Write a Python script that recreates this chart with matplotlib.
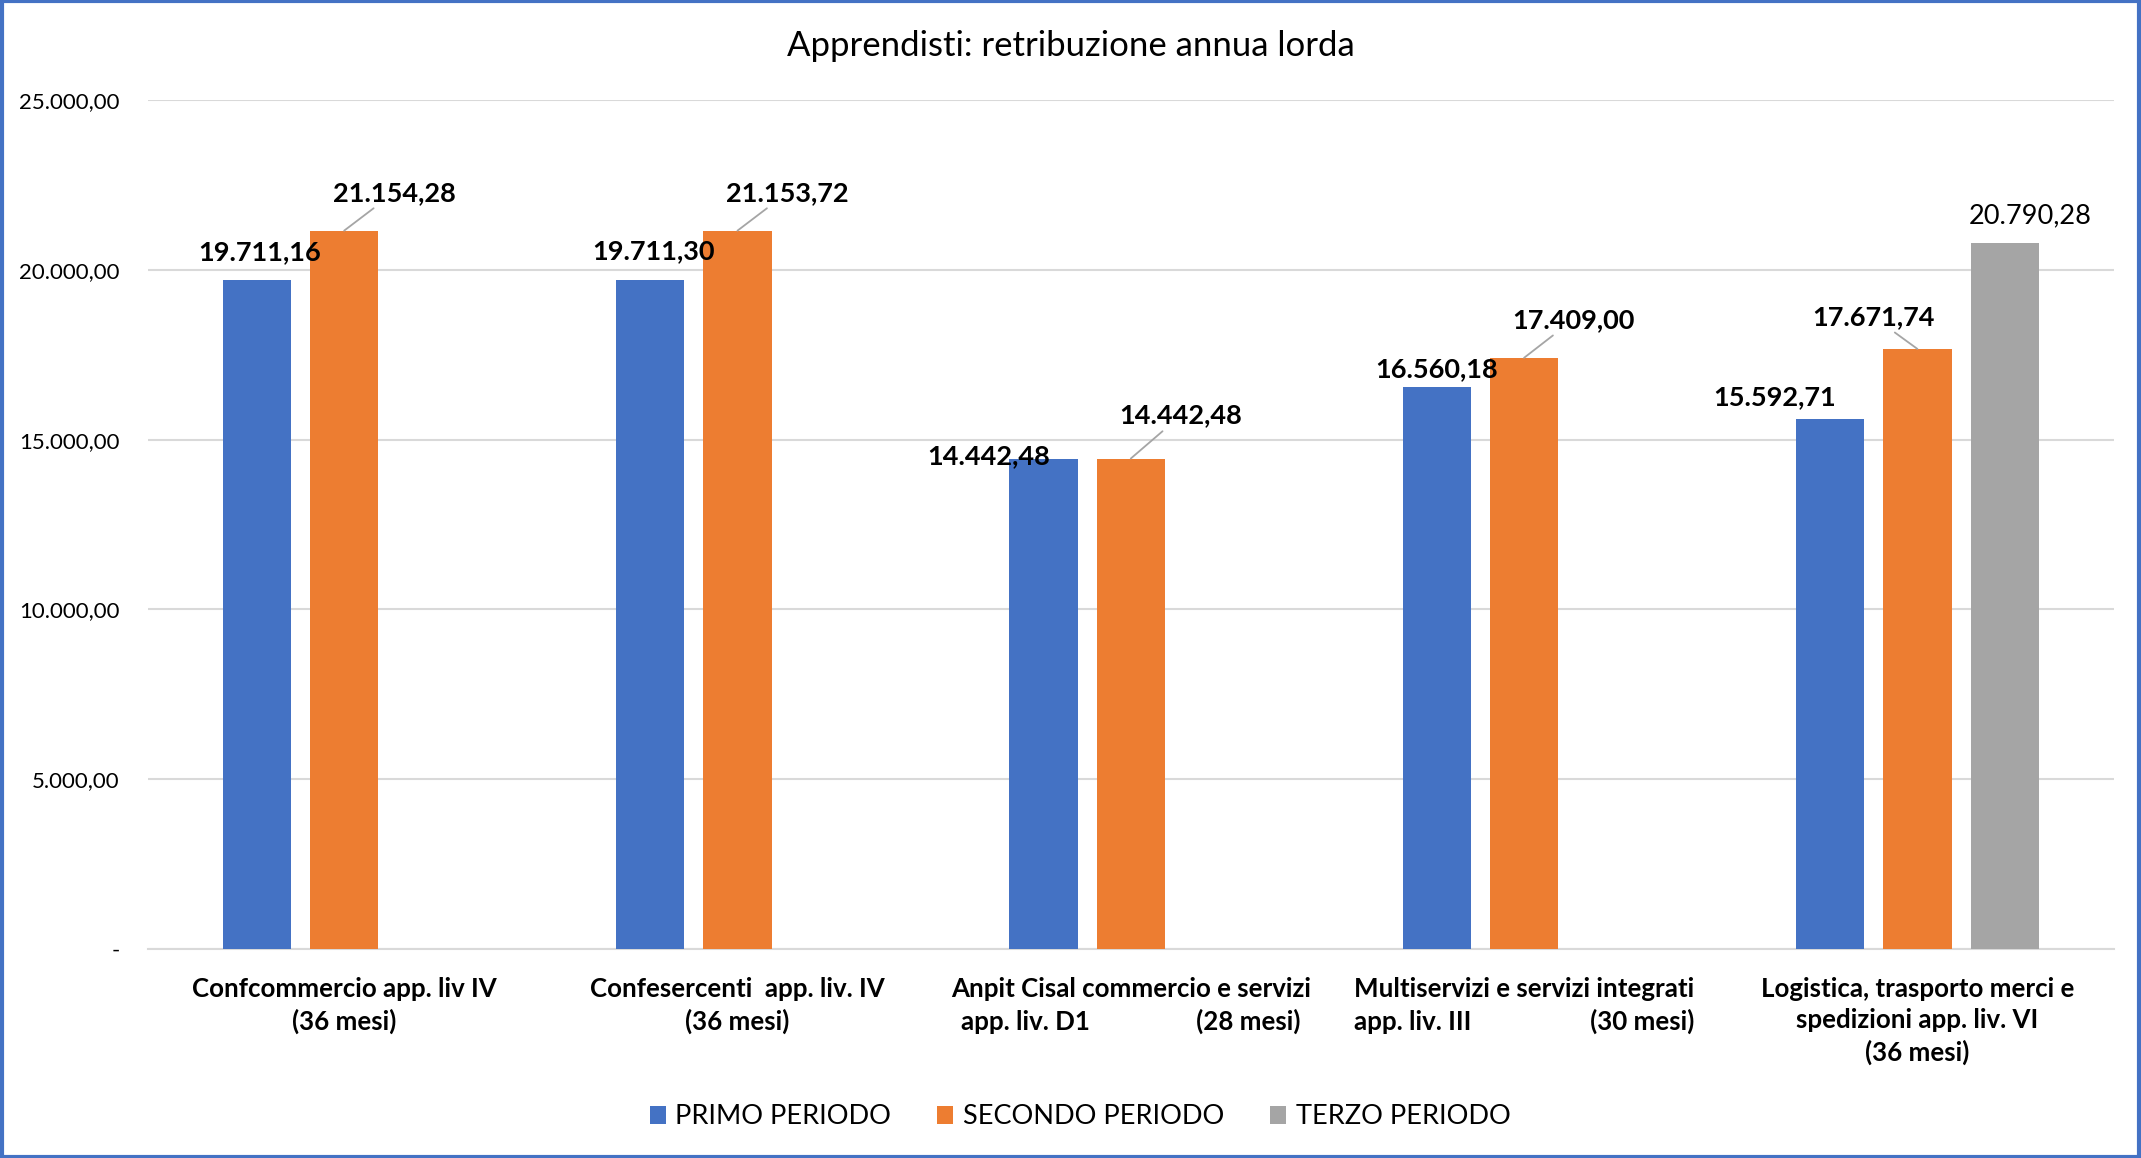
import numpy as np
import matplotlib
matplotlib.use("Agg")
from matplotlib import pyplot as plt
from matplotlib.patches import Rectangle

categories = [
    "Confcommercio app. liv IV\n(36 mesi)",
    "Confesercenti  app. liv. IV\n(36 mesi)",
    "Anpit Cisal commercio e servizi\napp. liv. D1                 (28 mesi)",
    "Multiservizi e servizi integrati\napp. liv. III                   (30 mesi)",
    "Logistica, trasporto merci e\nspedizioni app. liv. VI\n(36 mesi)",
]
primo = [19711.16, 19711.30, 14442.48, 16560.18, 15592.71]
secondo = [21154.28, 21153.72, 14442.48, 17409.00, 17671.74]
terzo = [None, None, None, None, 20790.28]
series_names = ["PRIMO PERIODO", "SECONDO PERIODO", "TERZO PERIODO"]
y_ticks = [0, 5000, 10000, 15000, 20000, 25000]

colors = ["#4472C4", "#ED7D31", "#A5A5A5"]
# label offsets (pixels) from the top-centre of each bar
offsets = [
    [(3, 28), (3, 28), (-55, 2), (0, 18), (-55, 22)],
    [(50, 38), (50, 38), (50, 43), (49, 38), (-44, 32)],
    [None, None, None, None, (25, 27)],
]

FONT = "Lato"
plt.rcParams["font.family"] = [FONT, "DejaVu Sans"]


def it_fmt(v, dec=2):
    s = f"{v:,.{dec}f}"
    return s.replace(",", "X").replace(".", ",").replace("X", ".")


fig = plt.figure(figsize=(21.41, 11.58), dpi=100)
ax = fig.add_axes([0.0689, 0.1805, 0.9185, 0.7331])

x = np.arange(len(categories))
width = 0.1736
step = 0.2222
for k, (vals, name) in enumerate(zip([primo, secondo, terzo], series_names)):
    idx = [i for i, v in enumerate(vals) if v is not None]
    xs = x[idx] + (k - 1) * step
    hs = [vals[i] for i in idx]
    ax.bar(xs, hs, width=width, color=colors[k], label=name, zorder=3)
    for xi, i, v in zip(xs, idx, hs):
        arrow = None
        if k == 1:
            arrow = dict(arrowstyle="-", color="#A5A5A5", lw=1.3, shrinkA=1, shrinkB=0)
        ax.annotate(it_fmt(v), xy=(xi, v), xytext=offsets[k][i], textcoords="offset pixels",
                    ha="center", va="center", fontsize=19.5,
                    fontweight="normal" if k == 2 else "bold",
                    arrowprops=arrow, zorder=5)

ax.set_xlim(-0.5, len(categories) - 0.5)
ax.set_ylim(0, 25000)
ax.set_yticks(y_ticks)
ax.set_yticklabels(["-" if t == 0 else it_fmt(t) for t in y_ticks], fontsize=16)
ax.set_xticks(x)
ax.set_xticklabels(categories, fontsize=18.6, fontweight="bold", linespacing=1.36)
ax.tick_params(axis="both", length=0)
ax.tick_params(axis="y", pad=20)
ax.tick_params(axis="x", pad=20)
ax.grid(axis="y", color="#D9D9D9", lw=1.5, zorder=0)
for side in ["top", "right", "left"]:
    ax.spines[side].set_visible(False)
ax.spines["bottom"].set_color("#D9D9D9")
ax.spines["bottom"].set_linewidth(1.5)

fig.text(0.5, 1 - 46 / 1158, "Apprendisti: retribuzione annua lorda", ha="center", va="center", fontsize=25)

fig.legend(loc="center", bbox_to_anchor=(0.5045, 1 - 1117 / 1158), ncol=3, frameon=False,
           fontsize=19.5, handlelength=0.6, handleheight=0.6, handletextpad=0.35, columnspacing=1.7)

fig.patches.append(Rectangle((0.001, 0.001), 0.998, 0.998, transform=fig.transFigure,
                             fill=False, edgecolor="#4472C4", lw=3))

fig.savefig("out.png", dpi=100)
plt.close(fig)
